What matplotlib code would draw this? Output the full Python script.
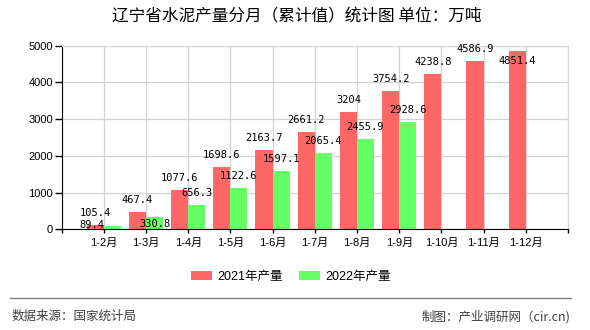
import numpy as np
import matplotlib
matplotlib.use("Agg")
import matplotlib.pyplot as plt
from matplotlib.lines import Line2D

plt.rcParams['font.family'] = ['Liberation Sans', 'Noto Sans CJK SC']

months = ['1-2月', '1-3月', '1-4月', '1-5月', '1-6月', '1-7月', '1-8月',
          '1-9月', '1-10月', '1-11月', '1-12月']
y2021 = [105.4, 467.4, 1077.6, 1698.6, 2163.7, 2661.2, 3204, 3754.2,
         4238.8, 4586.9, 4851.4]
y2022 = [89.4, 330.8, 656.3, 1122.6, 1597.1, 2065.4, 2455.9, 2928.6]
series_names = ['2021年产量', '2022年产量']
yticks = [0, 1000, 2000, 3000, 4000, 5000]

red = '#ff6666'
green = '#66ff66'
px = 0.72  # points per pixel at dpi 100

fig = plt.figure(figsize=(5.9, 3.3), dpi=100)
ax = fig.add_axes([61.7 / 590, 1 - 229.3 / 330, (568 - 61.7) / 590, (229.3 - 45.7) / 330])

x = np.arange(1, len(months) + 1)
w = 0.41
b1 = ax.bar(x - w / 2, y2021, w, color=red, zorder=2, label=series_names[0])
x2 = x[:len(y2022)]
b2 = ax.bar(x2 + 0.2, y2022, 0.4, color=green, zorder=2, label=series_names[1])

# value labels (offsets in pixels; a few moved to avoid overlaps like the source)
red_off = {10: (0, -9.5)}
green_off = {0: (-20.5, 1.3), 1: (0, -7)}
for i, v in enumerate(y2021):
    dx, dy = red_off.get(i, (0, 12))
    ax.annotate(f'{v:g}', (x[i] - w / 2, v), xytext=(dx * px, dy * px),
                textcoords='offset points', ha='center', va='center',
                fontsize=7.5, family='DejaVu Sans Mono', zorder=5)
for i, v in enumerate(y2022):
    dx, dy = green_off.get(i, (0, 12))
    ax.annotate(f'{v:g}', (x2[i] + 0.2, v), xytext=(dx * px, dy * px),
                textcoords='offset points', ha='center', va='center',
                fontsize=7.5, family='DejaVu Sans Mono', zorder=5)

ax.set_xlim(0, 12)
ax.set_ylim(0, 5000)
ax.set_xticks(np.arange(0, 13))
ax.set_xticklabels([''] + months + [''], fontsize=8)
ax.set_yticks(yticks)
ax.set_yticklabels([str(t) for t in yticks], fontsize=8)
ax.tick_params(axis='x', length=3, pad=3.2, width=1)
ax.tick_params(axis='y', length=4.8, pad=1.5, width=1)
ax.grid(color='#d3d3d3', lw=0.9)
ax.set_axisbelow(True)
for s in ['top', 'right']:
    ax.spines[s].set_color('#d3d3d3')
for s in ['left', 'bottom']:
    ax.spines[s].set_color('black')

fig.text(297 / 590, 1 - 17 / 330, '辽宁省水泥产量分月（累计值）统计图 单位：万吨',
         ha='center', va='center', fontsize=12, family=['Noto Sans CJK SC'])

fig.legend(handles=[b1, b2], loc='center', bbox_to_anchor=(291 / 590, 1 - 277.3 / 330),
           ncol=2, frameon=False, fontsize=9, handlelength=1.68, handleheight=0.72,
           handletextpad=0.4, columnspacing=1.3)

fig.add_artist(Line2D([10 / 590, 571 / 590], [1 - 298.3 / 330] * 2,
                      transform=fig.transFigure, color='#808080', lw=1))
fig.text(12 / 590, 1 - 316.7 / 330, '数据来源：国家统计局', ha='left', va='center',
         fontsize=9, color='#404040', family=['Noto Sans CJK SC'])
fig.text(570 / 590, 1 - 316.7 / 330, '制图：产业调研网（cir.cn)', ha='right', va='center',
         fontsize=9, color='#404040', family=['Noto Sans CJK SC'])

fig.savefig('out.png', dpi=100)
